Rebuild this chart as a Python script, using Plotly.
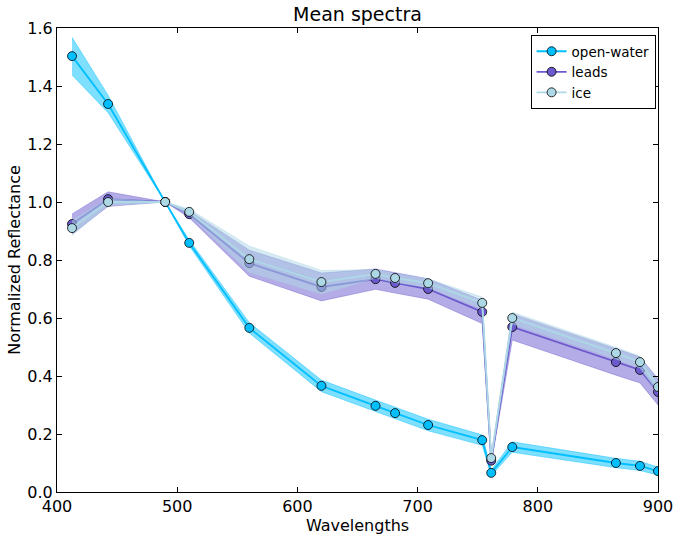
import plotly.graph_objects as go

# Band centre wavelengths (nm)
wavelengths = [412.5, 442.5, 490, 510, 560, 620, 665, 681.25, 708.75,
               753.75, 761.25, 778.75, 865, 885, 900]

# Mean normalized reflectance per class
open_water = [1.503, 1.338, 1.0, 0.859, 0.566, 0.366, 0.297, 0.272, 0.231,
              0.179, 0.066, 0.155, 0.100, 0.090, 0.072]
leads = [0.924, 1.010, 1.0, 0.958, 0.789, 0.707, 0.734, 0.721, 0.700,
         0.621, 0.108, 0.569, 0.448, 0.421, 0.345]
ice = [0.910, 1.0, 1.0, 0.966, 0.803, 0.724, 0.752, 0.738, 0.720,
       0.652, 0.117, 0.600, 0.479, 0.448, 0.362]

# Standard deviation per class
open_water_std = [0.065, 0.03, 0.0, 0.01, 0.018, 0.02, 0.02, 0.02, 0.02,
                  0.018, 0.01, 0.018, 0.016, 0.016, 0.014]
leads_std = [0.035, 0.025, 0.0, 0.012, 0.045, 0.048, 0.035, 0.035, 0.035,
             0.04, 0.01, 0.045, 0.045, 0.045, 0.045]
ice_std = [0.025, 0.012, 0.0, 0.01, 0.045, 0.04, 0.015, 0.015, 0.015,
           0.02, 0.01, 0.02, 0.02, 0.02, 0.02]

series = [
    ("open-water", open_water, open_water_std, "#00BFFF", "rgba(0,191,255,0.5)"),
    ("leads", leads, leads_std, "#6A5ACD", "rgba(106,90,205,0.5)"),
    ("ice", ice, ice_std, "#ADD8E6", "rgba(173,216,230,0.5)"),
]

fig = go.Figure()
for name, mean, std, color, fill in series:
    upper = [m + s for m, s in zip(mean, std)]
    lower = [m - s for m, s in zip(mean, std)]
    fig.add_trace(go.Scatter(
        x=wavelengths + wavelengths[::-1],
        y=upper + lower[::-1],
        fill="toself", fillcolor=fill,
        line=dict(width=0.8, color=fill),
        mode="lines", hoverinfo="skip", showlegend=False,
    ))
    fig.add_trace(go.Scatter(
        x=wavelengths, y=mean, name=name,
        mode="lines+markers",
        line=dict(color=color, width=1.8),
        marker=dict(size=9, color=color, line=dict(color="black", width=0.8)),
    ))

axis_common = dict(
    showgrid=False, zeroline=False, showline=True, linecolor="black",
    linewidth=1.2, mirror="allticks", ticks="inside", ticklen=5,
    tickcolor="black", tickfont=dict(size=16, color="black"),
)

fig.update_layout(
    width=674, height=540,
    margin=dict(l=57, r=16, t=28, b=48),
    paper_bgcolor="white", plot_bgcolor="white",
    font=dict(family="DejaVu Sans", color="black"),
    title=dict(text="Mean spectra", x=0.5, xref="paper", xanchor="center",
               y=1 - 14 / 540, yanchor="middle", yref="container",
               font=dict(size=19, color="black")),
    xaxis=dict(range=[400, 900], dtick=100, tickformat="d",
               title=dict(text="Wavelengths", font=dict(size=16), standoff=0),
               automargin="height", **axis_common),
    yaxis=dict(range=[0, 1.6], dtick=0.2, tickformat=".1f",
               title=dict(text="Normalized Reflectance", font=dict(size=16), standoff=2),
               automargin="width", **axis_common),
    legend=dict(x=0.996, y=0.985, xanchor="right", yanchor="top",
                bgcolor="white", bordercolor="black", borderwidth=1,
                font=dict(size=13.5), tracegroupgap=0),
    showlegend=True,
)

fig.write_html("out.html")
